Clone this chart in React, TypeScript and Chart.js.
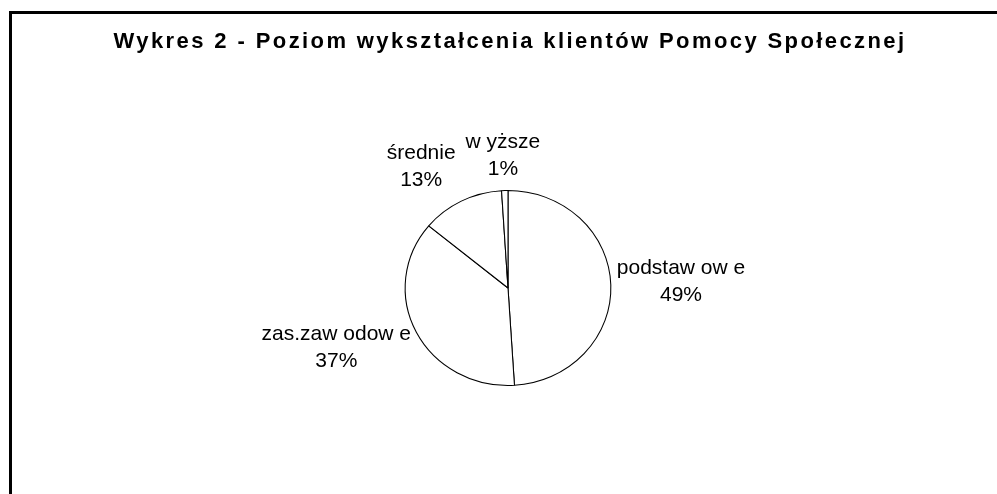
import React, { useEffect, useRef } from 'react';
import { Chart, registerables } from 'chart.js';

Chart.register(...registerables);

const TITLE = 'Wykres 2 - Poziom wykształcenia klientów Pomocy Społecznej';
const categories = ['podstaw ow e', 'zas.zaw odow e', 'średnie', 'w yższe'];
const shares = [49, 37, 13, 1];

const FONT = '"Liberation Sans", Arial, sans-serif';
const X_STRETCH = 1.055;

const excelLook = {
  id: 'excelLook',
  beforeDraw(chart: any) {
    const ctx = chart.ctx;
    const arc = chart.getDatasetMeta(0).data[0];
    ctx.save();
    ctx.strokeStyle = '#000';
    ctx.lineWidth = 3;
    ctx.strokeRect(10.5, 12.5, 1200, 1200);
    ctx.fillStyle = '#000';
    ctx.font = 'bold 22px ' + FONT;
    (ctx as any).letterSpacing = '2.4px';
    ctx.textAlign = 'center';
    ctx.textBaseline = 'alphabetic';
    ctx.fillText(TITLE, arc.x + 2, 47.5);
    ctx.restore();
  },
  beforeDatasetsDraw(chart: any) {
    const ctx = chart.ctx;
    const arc = chart.getDatasetMeta(0).data[0];
    ctx.save();
    ctx.translate(arc.x, arc.y);
    ctx.scale(X_STRETCH, 1);
    ctx.translate(-arc.x, -arc.y);
  },
  afterDatasetsDraw(chart: any) {
    chart.ctx.restore();
  },
  afterDraw(chart: any) {
    const ctx = chart.ctx;
    const meta = chart.getDatasetMeta(0);
    const total = shares.reduce((a, b) => a + b, 0);
    ctx.save();
    ctx.font = '21px ' + FONT;
    ctx.fillStyle = '#000';
    ctx.textAlign = 'center';
    ctx.textBaseline = 'middle';
    const lh = 27;
    const gap = 6;
    const boxes = meta.data.map((el: any, i: number) => {
      const p = el.getProps(['x', 'y', 'startAngle', 'endAngle', 'outerRadius'], true);
      const mid = (p.startAngle + p.endAngle) / 2;
      const c = Math.cos(mid);
      const s = Math.sin(mid);
      const lines = [categories[i], Math.round((shares[i] / total) * 100) + '%'];
      const w = Math.max(...lines.map((t) => ctx.measureText(t).width));
      const h = lh * 2;
      const px = p.x + (p.outerRadius * X_STRETCH + gap) * c;
      const py = p.y + (p.outerRadius + gap) * s;
      const fx = Math.sign(c) * Math.min(1, Math.abs(c) * 1.4);
      const fy = Math.sign(s) * Math.min(1, Math.abs(s) * 1.2);
      return { cx: px + (fx * w) / 2, cy: py + (fy * h) / 2 - 2, w, h, lines };
    });
    for (let i = 0; i < boxes.length; i++) {
      for (let j = i + 1; j < boxes.length; j++) {
        const a = boxes[i];
        const b = boxes[j];
        const need = (a.w + b.w) / 2 + 10;
        const dx = Math.abs(a.cx - b.cx);
        if (dx < need && Math.abs(a.cy - b.cy) < (a.h + b.h) / 2) {
          const shift = need - dx;
          if (a.cx < b.cx) a.cx -= shift;
          else b.cx -= shift;
        }
      }
    }
    boxes.forEach((bx: any) => {
      ctx.fillText(bx.lines[0], bx.cx, bx.cy - lh / 2);
      ctx.fillText(bx.lines[1], bx.cx, bx.cy + lh / 2);
    });
    ctx.restore();
  },
};

export default function App() {
  const ref = useRef<HTMLCanvasElement>(null);
  useEffect(() => {
    if (!ref.current) return;
    const chart = new Chart(ref.current, {
      type: 'pie',
      data: {
        labels: categories,
        datasets: [
          {
            data: shares,
            backgroundColor: '#ffffff',
            borderColor: '#000000',
            borderWidth: 1,
            clip: false as any,
          } as any,
        ],
      },
      options: {
        animation: false,
        responsive: false,
        events: [],
        layout: { padding: { left: 358, right: 339, top: 190, bottom: 108 } },
        plugins: {
          legend: { display: false },
          tooltip: { enabled: false },
          title: { display: false },
        },
      },
      plugins: [excelLook],
    });
    return () => chart.destroy();
  }, []);
  return (
    <canvas
      ref={ref}
      width={997}
      height={494}
      style={{ position: 'absolute', left: 0, top: 0, display: 'block', background: '#fff' }}
    />
  );
}
